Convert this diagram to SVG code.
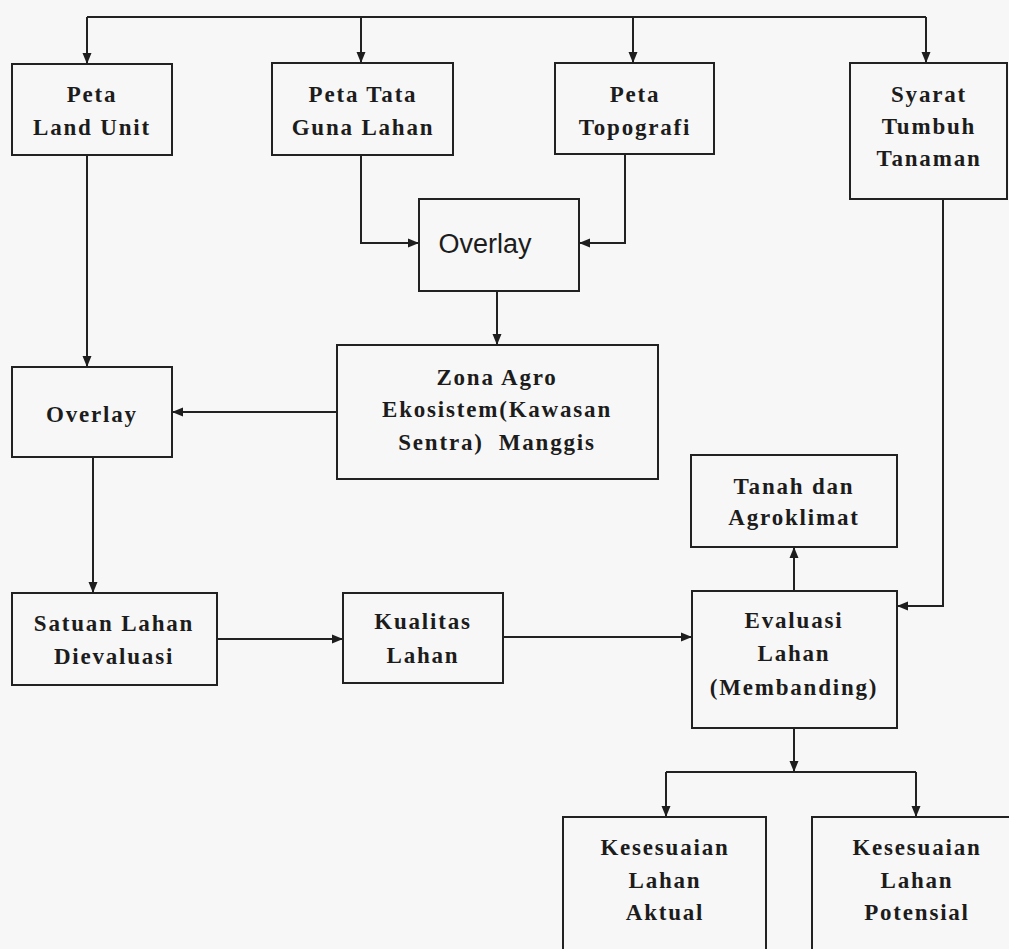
<svg xmlns="http://www.w3.org/2000/svg" width="1009" height="949" viewBox="0 0 1009 949">
<defs>
<marker id="ah" markerUnits="userSpaceOnUse" markerWidth="12" markerHeight="10" refX="11" refY="5" orient="auto">
<path d="M0,0.5 L11,5 L0,9.5 z" fill="#1e1e1e"/>
</marker>
<style>
.box{fill:none;stroke:#222;stroke-width:2}
.t{font-family:"Liberation Serif","Times New Roman",serif;font-weight:bold;font-size:23px;letter-spacing:1.8px;fill:#1c1c1c;text-anchor:middle}
.s{font-family:"Liberation Sans",Arial,sans-serif;font-size:27px;fill:#1c1c1c;text-anchor:middle}
.c{fill:none;stroke:#222;stroke-width:2}
</style>
</defs>
<rect x="0" y="0" width="1009" height="949" fill="#f7f7f7"/>
<g id="connectors">
<path class="c" d="M87,17 H926"/>
<path class="c" d="M87,17 V64" marker-end="url(#ah)"/>
<path class="c" d="M361,17 V63" marker-end="url(#ah)"/>
<path class="c" d="M633,17 V63" marker-end="url(#ah)"/>
<path class="c" d="M926,17 V63" marker-end="url(#ah)"/>
<path class="c" d="M361,155 V243 H419" marker-end="url(#ah)"/>
<path class="c" d="M625,154 V243 H579" marker-end="url(#ah)"/>
<path class="c" d="M497,291 V345" marker-end="url(#ah)"/>
<path class="c" d="M337,412 H172" marker-end="url(#ah)"/>
<path class="c" d="M87,155 V367" marker-end="url(#ah)"/>
<path class="c" d="M93,457 V593" marker-end="url(#ah)"/>
<path class="c" d="M217,639 H343" marker-end="url(#ah)"/>
<path class="c" d="M503,637 H692" marker-end="url(#ah)"/>
<path class="c" d="M943,199 V606 H897" marker-end="url(#ah)"/>
<path class="c" d="M794,591 V547" marker-end="url(#ah)"/>
<path class="c" d="M794,728 V772" marker-end="url(#ah)"/>
<path class="c" d="M666,772 H916"/>
<path class="c" d="M666,772 V817" marker-end="url(#ah)"/>
<path class="c" d="M916,772 V817" marker-end="url(#ah)"/>
</g>
<g id="peta-land-unit">
<rect class="box" x="12" y="64" width="160" height="91"/>
<text class="t" x="92" y="102">Peta</text>
<text class="t" x="92" y="135">Land Unit</text>
</g>
<g id="peta-tata-guna-lahan">
<rect class="box" x="272" y="63" width="181" height="92"/>
<text class="t" x="363" y="102">Peta Tata</text>
<text class="t" x="363" y="135">Guna Lahan</text>
</g>
<g id="peta-topografi">
<rect class="box" x="555" y="63" width="159" height="91"/>
<text class="t" x="635" y="102">Peta</text>
<text class="t" x="635" y="135">Topografi</text>
</g>
<g id="syarat-tumbuh-tanaman">
<rect class="box" x="850" y="63" width="157" height="136"/>
<text class="t" x="929" y="102">Syarat</text>
<text class="t" x="929" y="134">Tumbuh</text>
<text class="t" x="929" y="166">Tanaman</text>
</g>
<g id="overlay-1">
<rect class="box" x="419" y="199" width="160" height="92"/>
<text class="s" x="485" y="253">Overlay</text>
</g>
<g id="zona-agro">
<rect class="box" x="337" y="345" width="321" height="134"/>
<text class="t" x="497" y="385">Zona Agro</text>
<text class="t" x="497" y="417">Ekosistem(Kawasan</text>
<text class="t" x="497" y="450" xml:space="preserve">Sentra)  Manggis</text>
</g>
<g id="overlay-2">
<rect class="box" x="12" y="367" width="160" height="90"/>
<text class="t" x="92" y="422">Overlay</text>
</g>
<g id="satuan-lahan">
<rect class="box" x="12" y="593" width="205" height="92"/>
<text class="t" x="114" y="631">Satuan Lahan</text>
<text class="t" x="114" y="664">Dievaluasi</text>
</g>
<g id="kualitas-lahan">
<rect class="box" x="343" y="593" width="160" height="90"/>
<text class="t" x="423" y="629">Kualitas</text>
<text class="t" x="423" y="663">Lahan</text>
</g>
<g id="tanah-agroklimat">
<rect class="box" x="691" y="455" width="206" height="92"/>
<text class="t" x="794" y="494">Tanah dan</text>
<text class="t" x="794" y="525">Agroklimat</text>
</g>
<g id="evaluasi-lahan">
<rect class="box" x="692" y="591" width="205" height="137"/>
<text class="t" x="794" y="628">Evaluasi</text>
<text class="t" x="794" y="661">Lahan</text>
<text class="t" x="794" y="695">(Membanding)</text>
</g>
<g id="kesesuaian-aktual">
<rect class="box" x="563" y="817" width="203" height="145"/>
<text class="t" x="665" y="855">Kesesuaian</text>
<text class="t" x="665" y="888">Lahan</text>
<text class="t" x="665" y="920">Aktual</text>
</g>
<g id="kesesuaian-potensial">
<rect class="box" x="812" y="817" width="210" height="145"/>
<text class="t" x="917" y="855">Kesesuaian</text>
<text class="t" x="917" y="888">Lahan</text>
<text class="t" x="917" y="920">Potensial</text>
</g>
</svg>
